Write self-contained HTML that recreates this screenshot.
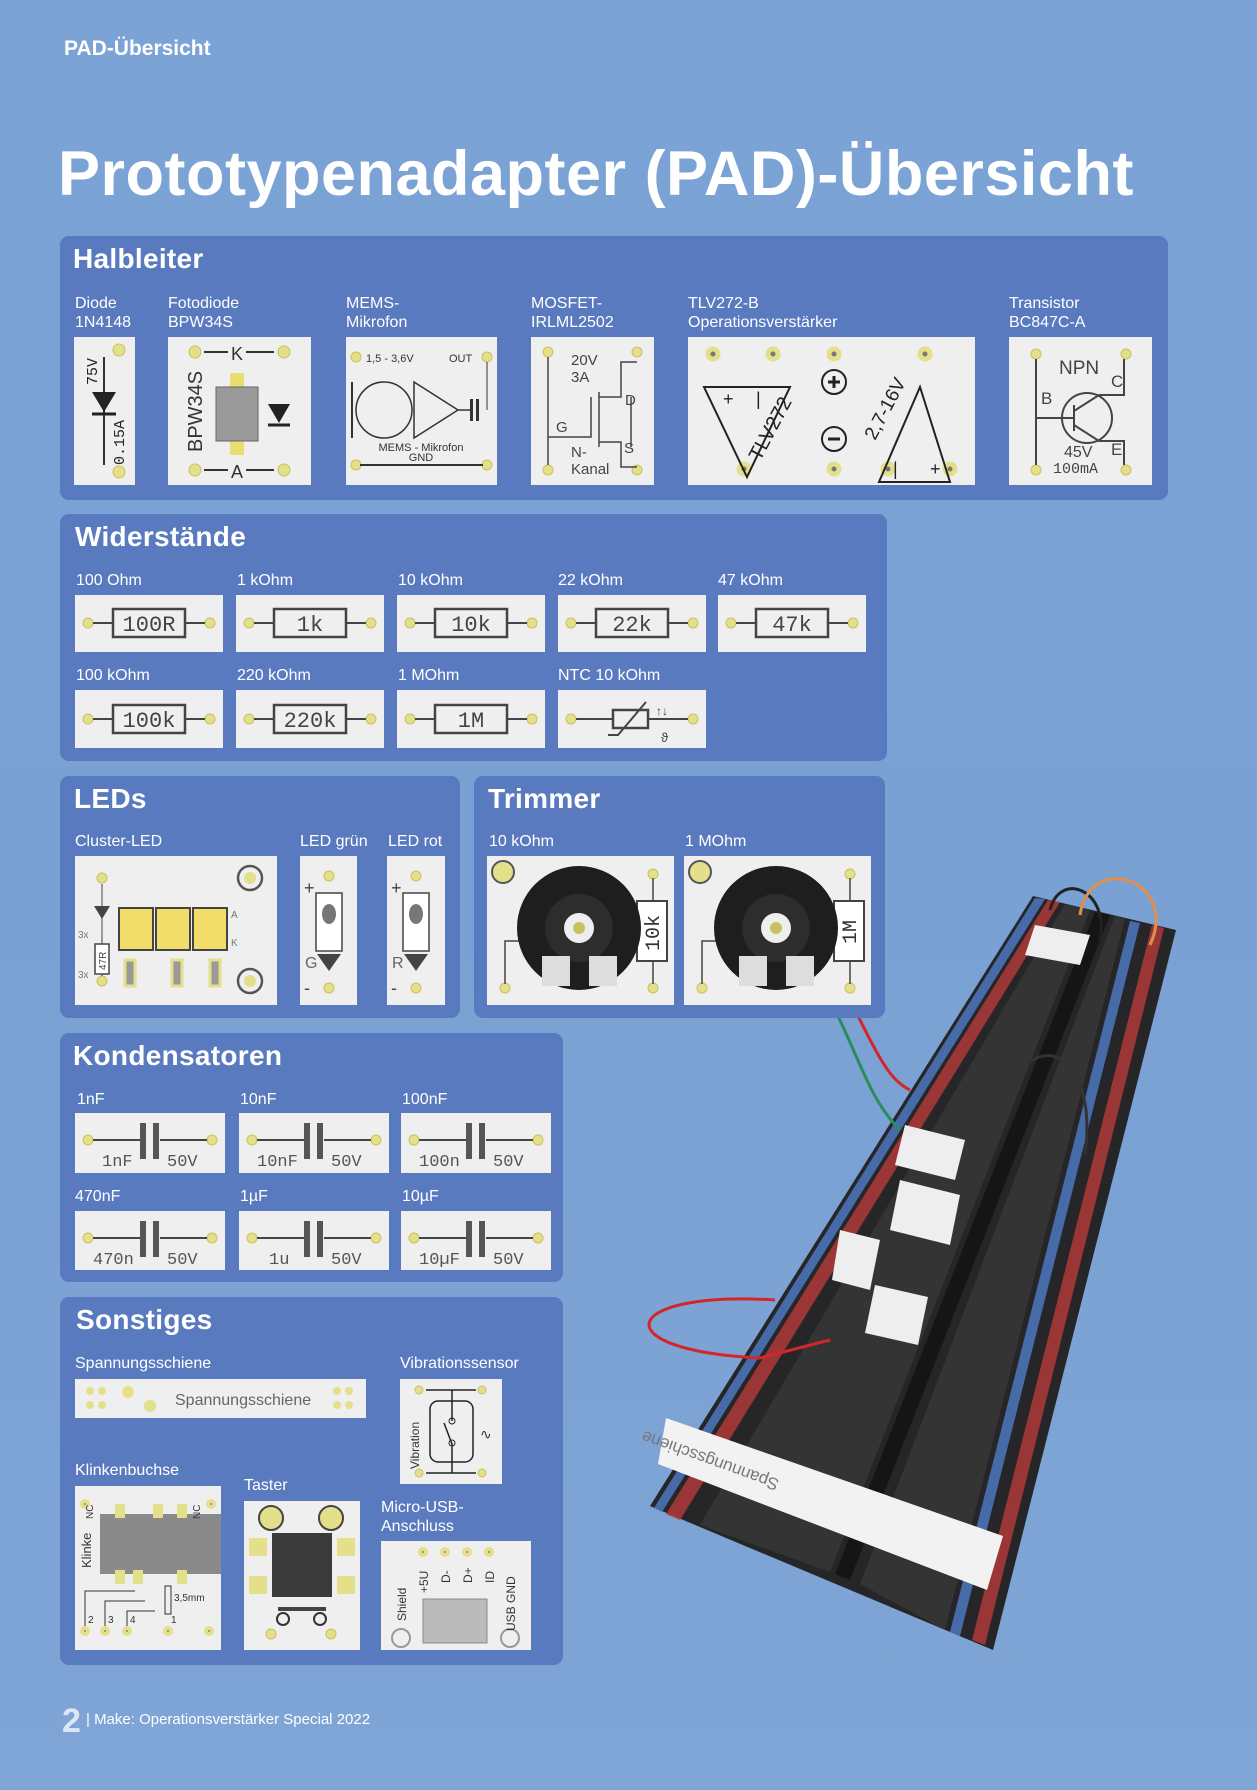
<!DOCTYPE html>
<html><head><meta charset="utf-8"><style>
*{margin:0;padding:0;box-sizing:border-box}
body{width:1257px;height:1790px;overflow:hidden;position:relative;font-family:"Liberation Sans",sans-serif;background:linear-gradient(180deg,#7ba3d6 0%,#7aa1d3 50%,#7ea5d5 100%)}
.a{position:absolute}
.box{position:absolute;background:#5a7abf;border-radius:9px}
.h{position:absolute;color:#fff;font-weight:bold;font-size:28px;letter-spacing:.3px}
.l{position:absolute;color:#fff;font-size:16px;line-height:19px;white-space:nowrap}
.c{position:absolute;background:#efefef}
svg{position:absolute;left:0;top:0}
.m{font-family:"Liberation Mono",monospace}
</style></head><body>
<div class="a" style="left:64px;top:37px;color:#fff;font-weight:bold;font-size:21px">PAD-Übersicht</div>
<div class="a" style="left:58px;top:138px;color:#fff;font-weight:bold;font-size:63px;letter-spacing:.5px;white-space:nowrap">Prototypenadapter (PAD)-Übersicht</div>

<!-- breadboard photo -->
<svg width="1257" height="1790" style="position:absolute;left:0;top:0">
<polygon points="1033,896 1176,930 993,1650 650,1506" fill="#262628"/>
<polygon points="1048,900 1060,902 680,1520 666,1514" fill="#b03a3a" opacity=".85"/>
<polygon points="1035,898 1045,899 662,1512 654,1508" fill="#4d78c0" opacity=".85"/>
<polygon points="1152,925 1164,928 985,1645 972,1640" fill="#b03a3a" opacity=".85"/>
<polygon points="1130,921 1140,923 960,1636 950,1632" fill="#4d78c0" opacity=".85"/>
<polygon points="1095,912 1110,915 850,1580 835,1574" fill="#151515"/>
<g fill="#3a3a3a" opacity=".7"><polygon points="1065,904 1090,910 830,1572 700,1525"/><polygon points="1115,916 1125,919 945,1630 860,1584"/></g>
<polygon points="666,1418 1003,1536 987,1590 658,1464" fill="#f2f2f2"/>
<text x="780" y="1480" transform="rotate(200 780 1480)" font-size="17" fill="#777">Spannungsschiene</text>
<polygon points="1035,925 1090,935 1080,965 1025,955" fill="#eee"/>
<polygon points="905,1125 965,1140 955,1180 895,1165" fill="#eee"/>
<polygon points="900,1180 960,1195 950,1245 890,1230" fill="#eee"/>
<polygon points="840,1230 880,1240 870,1290 832,1280" fill="#eee"/>
<polygon points="875,1285 928,1297 918,1345 865,1333" fill="#eee"/>
<path d="M775,1300 C620,1290 600,1350 760,1358 L830,1340" stroke="#d2262b" stroke-width="3" fill="none"/>
<path d="M835,1010 C860,1060 870,1100 900,1130" stroke="#2b8d5a" stroke-width="3" fill="none"/>
<path d="M855,1010 C880,1060 890,1080 910,1090" stroke="#d2262b" stroke-width="3" fill="none"/>
<path d="M1085,1155 C1100,1040 1020,1020 1000,1120" stroke="#333" stroke-width="3" fill="none"/>
<path d="M1100,940 C1110,890 1060,870 1050,910" stroke="#222" stroke-width="3" fill="none"/>
<path d="M1150,945 C1180,880 1090,850 1080,915" stroke="#e0904a" stroke-width="3" fill="none"/>
</svg>

<!-- Halbleiter -->
<div class="box" style="left:60px;top:236px;width:1108px;height:264px"></div>
<div class="h" style="left:73px;top:243px">Halbleiter</div>
<div class="l" style="left:75px;top:294px">Diode<br>1N4148</div>
<div class="l" style="left:168px;top:294px">Fotodiode<br>BPW34S</div>
<div class="l" style="left:346px;top:294px">MEMS-<br>Mikrofon</div>
<div class="l" style="left:531px;top:294px">MOSFET-<br>IRLML2502</div>
<div class="l" style="left:688px;top:294px">TLV272-B<br>Operationsverstärker</div>
<div class="l" style="left:1009px;top:294px">Transistor<br>BC847C-A</div>

<div class="c" style="left:74px;top:337px;width:61px;height:148px"><svg width="61" height="148">
<g fill="#e4df8a" stroke="#c9c160"><circle cx="45" cy="13" r="6"/><circle cx="45" cy="135" r="6"/></g>
<line x1="30" y1="20" x2="30" y2="128" stroke="#333" stroke-width="2"/><polygon points="18,55 42,55 30,75" fill="#222"/><line x1="18" y1="77" x2="42" y2="77" stroke="#222" stroke-width="3"/>
<text x="23" y="48" transform="rotate(-90 23 48)" class="m" font-size="15" fill="#222">75V</text>
<text x="50" y="128" transform="rotate(-90 50 128)" class="m" font-size="15" fill="#222">0.15A</text></svg></div>

<div class="c" style="left:168px;top:337px;width:143px;height:148px"><svg width="143" height="148">
<g fill="#e4df8a" stroke="#c9c160"><circle cx="27" cy="15" r="6"/><circle cx="116" cy="15" r="6"/><circle cx="27" cy="133" r="6"/><circle cx="116" cy="133" r="6"/></g>
<text x="63" y="23" font-size="18" fill="#333">K</text><text x="63" y="141" font-size="18" fill="#333">A</text>
<line x1="36" y1="15" x2="60" y2="15" stroke="#333" stroke-width="2"/><line x1="78" y1="15" x2="106" y2="15" stroke="#333" stroke-width="2"/>
<line x1="36" y1="133" x2="60" y2="133" stroke="#333" stroke-width="2"/><line x1="78" y1="133" x2="106" y2="133" stroke="#333" stroke-width="2"/>
<rect x="62" y="36" width="14" height="18" fill="#e8df70"/><rect x="62" y="100" width="14" height="18" fill="#e8df70"/>
<rect x="48" y="50" width="42" height="54" fill="#9a9a9a" stroke="#666"/>
<polygon points="100,67 122,67 111,86" fill="#222"/><line x1="100" y1="88" x2="122" y2="88" stroke="#222" stroke-width="3"/>
<text x="34" y="115" transform="rotate(-90 34 115)" font-size="20" fill="#333">BPW34S</text></svg></div>

<div class="c" style="left:346px;top:337px;width:151px;height:148px"><svg width="151" height="148">
<g fill="#e4df8a" stroke="#c9c160"><circle cx="10" cy="20" r="5"/><circle cx="141" cy="20" r="5"/><circle cx="10" cy="128" r="5"/><circle cx="141" cy="128" r="5"/></g>
<text x="20" y="25" font-size="11" fill="#333">1,5 - 3,6V</text><text x="103" y="25" font-size="11" fill="#333">OUT</text>
<circle cx="38" cy="73" r="28" fill="none" stroke="#333" stroke-width="1.5"/><line x1="6" y1="45" x2="6" y2="101" stroke="#333" stroke-width="2"/>
<polygon points="68,45 68,101 112,73" fill="none" stroke="#333" stroke-width="1.5"/>
<line x1="112" y1="73" x2="124" y2="73" stroke="#333" stroke-width="1.5"/><rect x="124" y="62" width="3" height="22" fill="#333"/><rect x="130" y="62" width="3" height="22" fill="#333"/>
<line x1="141" y1="25" x2="141" y2="73" stroke="#333"/>
<text x="75" y="114" text-anchor="middle" font-size="11" fill="#333">MEMS - Mikrofon</text><text x="75" y="124" text-anchor="middle" font-size="11" fill="#333">GND</text>
<line x1="14" y1="128" x2="137" y2="128" stroke="#333" stroke-width="2"/></svg></div>

<div class="c" style="left:531px;top:337px;width:123px;height:148px"><svg width="123" height="148">
<g fill="#e4df8a" stroke="#c9c160"><circle cx="17" cy="15" r="5"/><circle cx="106" cy="15" r="5"/><circle cx="17" cy="133" r="5"/><circle cx="106" cy="133" r="5"/></g>
<text x="40" y="28" font-size="15" fill="#444">20V</text><text x="40" y="45" font-size="15" fill="#444">3A</text>
<text x="94" y="68" font-size="15" fill="#444">D</text><text x="93" y="116" font-size="15" fill="#444">S</text><text x="25" y="95" font-size="15" fill="#444">G</text>
<text x="40" y="120" font-size="15" fill="#444">N-</text><text x="40" y="137" font-size="15" fill="#444">Kanal</text>
<g stroke="#444" stroke-width="1.5" fill="none"><path d="M17,20 V128"/><path d="M17,100 H60 V60"/><path d="M68,55 V110"/><path d="M68,60 H90 V25 H106"/><path d="M68,105 H90 V130 H106"/><path d="M100,60 V110"/></g></svg></div>

<div class="c" style="left:688px;top:337px;width:287px;height:148px"><svg width="287" height="148">
<g fill="#777" stroke="#e4df8a" stroke-width="5"><circle cx="25" cy="17" r="5"/><circle cx="85" cy="17" r="5"/><circle cx="146" cy="17" r="5"/><circle cx="237" cy="17" r="5"/><circle cx="56" cy="132" r="5"/><circle cx="146" cy="132" r="5"/><circle cx="200" cy="132" r="5"/><circle cx="262" cy="132" r="5"/></g>
<g fill="none" stroke="#222" stroke-width="2"><polygon points="16,50 102,50 59,140"/><polygon points="191,145 262,145 232,50"/><circle cx="146" cy="45" r="12"/><circle cx="146" cy="102" r="12"/></g>
<path d="M140,45 H152 M146,39 V51 M140,102 H152" stroke="#222" stroke-width="3"/>
<text x="35" y="68" font-size="18" fill="#222">+</text><text x="68" y="68" font-size="18" fill="#222">|</text>
<text x="205" y="138" font-size="18" fill="#222">|</text><text x="242" y="138" font-size="18" fill="#222">+</text>
<text x="72" y="125" transform="rotate(-62 72 125)" font-size="20" fill="#222">TLV272</text>
<text x="187" y="104" transform="rotate(-62 187 104)" font-size="19" fill="#222">2,7-16V</text></svg></div>

<div class="c" style="left:1009px;top:337px;width:143px;height:148px"><svg width="143" height="148">
<g fill="#e4df8a" stroke="#c9c160"><circle cx="27" cy="17" r="5"/><circle cx="117" cy="17" r="5"/><circle cx="27" cy="133" r="5"/><circle cx="117" cy="133" r="5"/></g>
<text x="50" y="37" font-size="19" fill="#444">NPN</text><text x="102" y="50" font-size="17" fill="#444">C</text><text x="32" y="67" font-size="17" fill="#444">B</text><text x="102" y="118" font-size="17" fill="#444">E</text>
<text x="55" y="120" font-size="16" fill="#444">45V</text><text x="44" y="136" class="m" font-size="15" fill="#444">100mA</text>
<g stroke="#444" stroke-width="2" fill="none"><circle cx="78" cy="81" r="25"/><path d="M27,22 V128 M27,81 H65 M65,68 V94 M65,74 L90,58 H115 V22 M65,88 L90,104 H115 V128"/></g></svg></div>

<!-- Widerstände -->
<div class="box" style="left:60px;top:514px;width:827px;height:247px"></div>
<div class="h" style="left:75px;top:521px">Widerstände</div>
<div class="l" style="left:76px;top:571px">100 Ohm</div><div class="l" style="left:237px;top:571px">1 kOhm</div><div class="l" style="left:398px;top:571px">10 kOhm</div><div class="l" style="left:558px;top:571px">22 kOhm</div><div class="l" style="left:718px;top:571px">47 kOhm</div>
<div class="l" style="left:76px;top:666px">100 kOhm</div><div class="l" style="left:237px;top:666px">220 kOhm</div><div class="l" style="left:398px;top:666px">1 MOhm</div><div class="l" style="left:558px;top:666px">NTC 10 kOhm</div>

<div class="c" style="left:75px;top:595px;width:148px;height:57px"><svg width="148" height="57"><g fill="#e4df8a" stroke="#c9c160"><circle cx="13" cy="28" r="5"/><circle cx="135" cy="28" r="5"/></g><path d="M18,28 H38 M110,28 H130" stroke="#444" stroke-width="2"/><rect x="38" y="14" width="72" height="28" fill="none" stroke="#444" stroke-width="2.5"/><text x="74" y="36" text-anchor="middle" class="m" font-size="22" fill="#444">100R</text></svg></div>
<div class="c" style="left:236px;top:595px;width:148px;height:57px"><svg width="148" height="57"><g fill="#e4df8a" stroke="#c9c160"><circle cx="13" cy="28" r="5"/><circle cx="135" cy="28" r="5"/></g><path d="M18,28 H38 M110,28 H130" stroke="#444" stroke-width="2"/><rect x="38" y="14" width="72" height="28" fill="none" stroke="#444" stroke-width="2.5"/><text x="74" y="36" text-anchor="middle" class="m" font-size="22" fill="#444">1k</text></svg></div>
<div class="c" style="left:397px;top:595px;width:148px;height:57px"><svg width="148" height="57"><g fill="#e4df8a" stroke="#c9c160"><circle cx="13" cy="28" r="5"/><circle cx="135" cy="28" r="5"/></g><path d="M18,28 H38 M110,28 H130" stroke="#444" stroke-width="2"/><rect x="38" y="14" width="72" height="28" fill="none" stroke="#444" stroke-width="2.5"/><text x="74" y="36" text-anchor="middle" class="m" font-size="22" fill="#444">10k</text></svg></div>
<div class="c" style="left:558px;top:595px;width:148px;height:57px"><svg width="148" height="57"><g fill="#e4df8a" stroke="#c9c160"><circle cx="13" cy="28" r="5"/><circle cx="135" cy="28" r="5"/></g><path d="M18,28 H38 M110,28 H130" stroke="#444" stroke-width="2"/><rect x="38" y="14" width="72" height="28" fill="none" stroke="#444" stroke-width="2.5"/><text x="74" y="36" text-anchor="middle" class="m" font-size="22" fill="#444">22k</text></svg></div>
<div class="c" style="left:718px;top:595px;width:148px;height:57px"><svg width="148" height="57"><g fill="#e4df8a" stroke="#c9c160"><circle cx="13" cy="28" r="5"/><circle cx="135" cy="28" r="5"/></g><path d="M18,28 H38 M110,28 H130" stroke="#444" stroke-width="2"/><rect x="38" y="14" width="72" height="28" fill="none" stroke="#444" stroke-width="2.5"/><text x="74" y="36" text-anchor="middle" class="m" font-size="22" fill="#444">47k</text></svg></div>
<div class="c" style="left:75px;top:690px;width:148px;height:58px"><svg width="148" height="58"><g fill="#e4df8a" stroke="#c9c160"><circle cx="13" cy="29" r="5"/><circle cx="135" cy="29" r="5"/></g><path d="M18,29 H38 M110,29 H130" stroke="#444" stroke-width="2"/><rect x="38" y="15" width="72" height="28" fill="none" stroke="#444" stroke-width="2.5"/><text x="74" y="37" text-anchor="middle" class="m" font-size="22" fill="#444">100k</text></svg></div>
<div class="c" style="left:236px;top:690px;width:148px;height:58px"><svg width="148" height="58"><g fill="#e4df8a" stroke="#c9c160"><circle cx="13" cy="29" r="5"/><circle cx="135" cy="29" r="5"/></g><path d="M18,29 H38 M110,29 H130" stroke="#444" stroke-width="2"/><rect x="38" y="15" width="72" height="28" fill="none" stroke="#444" stroke-width="2.5"/><text x="74" y="37" text-anchor="middle" class="m" font-size="22" fill="#444">220k</text></svg></div>
<div class="c" style="left:397px;top:690px;width:148px;height:58px"><svg width="148" height="58"><g fill="#e4df8a" stroke="#c9c160"><circle cx="13" cy="29" r="5"/><circle cx="135" cy="29" r="5"/></g><path d="M18,29 H38 M110,29 H130" stroke="#444" stroke-width="2"/><rect x="38" y="15" width="72" height="28" fill="none" stroke="#444" stroke-width="2.5"/><text x="74" y="37" text-anchor="middle" class="m" font-size="22" fill="#444">1M</text></svg></div>
<div class="c" style="left:558px;top:690px;width:148px;height:58px"><svg width="148" height="58"><g fill="#e4df8a" stroke="#c9c160"><circle cx="13" cy="29" r="5"/><circle cx="135" cy="29" r="5"/></g><path d="M18,29 H55 M90,29 H130" stroke="#444" stroke-width="2"/><rect x="55" y="20" width="35" height="18" fill="none" stroke="#444" stroke-width="2.5"/><path d="M50,45 H60 L88,12" stroke="#444" stroke-width="2" fill="none"/><text x="98" y="25" font-size="12" fill="#444">↑↓</text><text x="103" y="52" font-size="13" fill="#444">ϑ</text></svg></div>

<!-- LEDs -->
<div class="box" style="left:60px;top:776px;width:400px;height:242px"></div>
<div class="h" style="left:74px;top:783px">LEDs</div>
<div class="l" style="left:75px;top:832px">Cluster-LED</div><div class="l" style="left:300px;top:832px">LED grün</div><div class="l" style="left:388px;top:832px">LED rot</div>
<div class="c" style="left:75px;top:856px;width:202px;height:149px"><svg width="202" height="149">
<g fill="#e4df8a" stroke="#c9c160"><circle cx="27" cy="22" r="5"/><circle cx="27" cy="125" r="5"/></g>
<g fill="none" stroke="#555" stroke-width="2.5"><circle cx="175" cy="22" r="12"/><circle cx="175" cy="125" r="12"/></g><g fill="#e4df8a"><circle cx="175" cy="22" r="6"/><circle cx="175" cy="125" r="6"/></g>
<rect x="44" y="52" width="34" height="42" fill="#f3dd6a" stroke="#444" stroke-width="2"/><rect x="81" y="52" width="34" height="42" fill="#f3dd6a" stroke="#444" stroke-width="2"/><rect x="118" y="52" width="34" height="42" fill="#f3dd6a" stroke="#444" stroke-width="2"/>
<g fill="#999" stroke="#e4df8a" stroke-width="3"><rect x="50" y="104" width="10" height="26"/><rect x="97" y="104" width="10" height="26"/><rect x="135" y="104" width="10" height="26"/></g>
<line x1="27" y1="28" x2="27" y2="120" stroke="#444"/><polygon points="19,50 35,50 27,63" fill="#444"/><rect x="20" y="88" width="14" height="30" fill="#fff" stroke="#444" stroke-width="1.5"/>
<text x="31" y="114" transform="rotate(-90 31 114)" font-size="10" fill="#444">47R</text><text x="3" y="82" font-size="10" fill="#777">3x</text><text x="3" y="122" font-size="10" fill="#777">3x</text>
<text x="156" y="62" font-size="10" fill="#777">A</text><text x="156" y="90" font-size="10" fill="#777">K</text></svg></div>
<div class="c" style="left:300px;top:856px;width:57px;height:149px"><svg width="57" height="149"><g fill="#e4df8a" stroke="#c9c160"><circle cx="29" cy="20" r="5"/><circle cx="29" cy="132" r="5"/></g><rect x="16" y="37" width="26" height="58" fill="#fff" stroke="#444" stroke-width="1.5"/><ellipse cx="29" cy="58" rx="7" ry="10" fill="#777"/><polygon points="17,98 41,98 29,115" fill="#444"/><text x="4" y="38" font-size="18" fill="#444">+</text><text x="5" y="112" font-size="16" fill="#666">G</text><text x="4" y="138" font-size="18" fill="#444">-</text></svg></div>
<div class="c" style="left:387px;top:856px;width:58px;height:149px"><svg width="58" height="149"><g fill="#e4df8a" stroke="#c9c160"><circle cx="29" cy="20" r="5"/><circle cx="29" cy="132" r="5"/></g><rect x="16" y="37" width="26" height="58" fill="#fff" stroke="#444" stroke-width="1.5"/><ellipse cx="29" cy="58" rx="7" ry="10" fill="#777"/><polygon points="17,98 41,98 29,115" fill="#444"/><text x="4" y="38" font-size="18" fill="#444">+</text><text x="5" y="112" font-size="16" fill="#666">R</text><text x="4" y="138" font-size="18" fill="#444">-</text></svg></div>

<!-- Trimmer -->
<div class="box" style="left:474px;top:776px;width:411px;height:242px"></div>
<div class="h" style="left:488px;top:783px">Trimmer</div>
<div class="l" style="left:489px;top:832px">10 kOhm</div><div class="l" style="left:685px;top:832px">1 MOhm</div>
<div class="c" style="left:487px;top:856px;width:187px;height:149px"><svg width="187" height="149">
<circle cx="16" cy="16" r="11" fill="#e4df8a" stroke="#555" stroke-width="2"/><g fill="#e4df8a" stroke="#c9c160"><circle cx="166" cy="18" r="5"/><circle cx="166" cy="132" r="5"/><circle cx="18" cy="132" r="5"/></g>
<rect x="150" y="45" width="30" height="60" fill="#fff" stroke="#444" stroke-width="2"/><text x="172" y="95" transform="rotate(-90 172 95)" class="m" font-size="20" fill="#333">10k</text>
<path d="M166,22 V45 M166,105 V128 M18,128 V85 H32" stroke="#444" stroke-width="1.5" fill="none"/>
<circle cx="92" cy="72" r="62" fill="#1e1e1e"/><circle cx="92" cy="72" r="34" fill="#2d2d2d"/><circle cx="92" cy="72" r="15" fill="#eee"/><circle cx="92" cy="72" r="6" fill="#c9c160"/>
<rect x="55" y="100" width="28" height="30" fill="#ddd"/><rect x="102" y="100" width="28" height="30" fill="#ddd"/></svg></div>
<div class="c" style="left:684px;top:856px;width:187px;height:149px"><svg width="187" height="149">
<circle cx="16" cy="16" r="11" fill="#e4df8a" stroke="#555" stroke-width="2"/><g fill="#e4df8a" stroke="#c9c160"><circle cx="166" cy="18" r="5"/><circle cx="166" cy="132" r="5"/><circle cx="18" cy="132" r="5"/></g>
<rect x="150" y="45" width="30" height="60" fill="#fff" stroke="#444" stroke-width="2"/><text x="172" y="88" transform="rotate(-90 172 88)" class="m" font-size="20" fill="#333">1M</text>
<path d="M166,22 V45 M166,105 V128 M18,128 V85 H32" stroke="#444" stroke-width="1.5" fill="none"/>
<circle cx="92" cy="72" r="62" fill="#1e1e1e"/><circle cx="92" cy="72" r="34" fill="#2d2d2d"/><circle cx="92" cy="72" r="15" fill="#eee"/><circle cx="92" cy="72" r="6" fill="#c9c160"/>
<rect x="55" y="100" width="28" height="30" fill="#ddd"/><rect x="102" y="100" width="28" height="30" fill="#ddd"/></svg></div>

<!-- Kondensatoren -->
<div class="box" style="left:60px;top:1033px;width:503px;height:249px"></div>
<div class="h" style="left:73px;top:1040px">Kondensatoren</div>
<div class="l" style="left:77px;top:1090px">1nF</div><div class="l" style="left:240px;top:1090px">10nF</div><div class="l" style="left:402px;top:1090px">100nF</div>
<div class="l" style="left:75px;top:1187px">470nF</div><div class="l" style="left:240px;top:1187px">1µF</div><div class="l" style="left:402px;top:1187px">10µF</div>
<div class="c" style="left:75px;top:1113px;width:150px;height:60px"><svg width="150" height="60"><g fill="#e4df8a" stroke="#c9c160"><circle cx="13" cy="27" r="5"/><circle cx="137" cy="27" r="5"/></g><path d="M18,27 H65 M85,27 H132" stroke="#444" stroke-width="2"/><rect x="65" y="10" width="6" height="36" fill="#555"/><rect x="78" y="10" width="6" height="36" fill="#555"/><text x="27" y="53" class="m" font-size="17" fill="#555">1nF</text><text x="92" y="53" class="m" font-size="17" fill="#555">50V</text></svg></div>
<div class="c" style="left:239px;top:1113px;width:150px;height:60px"><svg width="150" height="60"><g fill="#e4df8a" stroke="#c9c160"><circle cx="13" cy="27" r="5"/><circle cx="137" cy="27" r="5"/></g><path d="M18,27 H65 M85,27 H132" stroke="#444" stroke-width="2"/><rect x="65" y="10" width="6" height="36" fill="#555"/><rect x="78" y="10" width="6" height="36" fill="#555"/><text x="18" y="53" class="m" font-size="17" fill="#555">10nF</text><text x="92" y="53" class="m" font-size="17" fill="#555">50V</text></svg></div>
<div class="c" style="left:401px;top:1113px;width:150px;height:60px"><svg width="150" height="60"><g fill="#e4df8a" stroke="#c9c160"><circle cx="13" cy="27" r="5"/><circle cx="137" cy="27" r="5"/></g><path d="M18,27 H65 M85,27 H132" stroke="#444" stroke-width="2"/><rect x="65" y="10" width="6" height="36" fill="#555"/><rect x="78" y="10" width="6" height="36" fill="#555"/><text x="18" y="53" class="m" font-size="17" fill="#555">100n</text><text x="92" y="53" class="m" font-size="17" fill="#555">50V</text></svg></div>
<div class="c" style="left:75px;top:1211px;width:150px;height:59px"><svg width="150" height="59"><g fill="#e4df8a" stroke="#c9c160"><circle cx="13" cy="27" r="5"/><circle cx="137" cy="27" r="5"/></g><path d="M18,27 H65 M85,27 H132" stroke="#444" stroke-width="2"/><rect x="65" y="10" width="6" height="36" fill="#555"/><rect x="78" y="10" width="6" height="36" fill="#555"/><text x="18" y="53" class="m" font-size="17" fill="#555">470n</text><text x="92" y="53" class="m" font-size="17" fill="#555">50V</text></svg></div>
<div class="c" style="left:239px;top:1211px;width:150px;height:59px"><svg width="150" height="59"><g fill="#e4df8a" stroke="#c9c160"><circle cx="13" cy="27" r="5"/><circle cx="137" cy="27" r="5"/></g><path d="M18,27 H65 M85,27 H132" stroke="#444" stroke-width="2"/><rect x="65" y="10" width="6" height="36" fill="#555"/><rect x="78" y="10" width="6" height="36" fill="#555"/><text x="30" y="53" class="m" font-size="17" fill="#555">1u</text><text x="92" y="53" class="m" font-size="17" fill="#555">50V</text></svg></div>
<div class="c" style="left:401px;top:1211px;width:150px;height:59px"><svg width="150" height="59"><g fill="#e4df8a" stroke="#c9c160"><circle cx="13" cy="27" r="5"/><circle cx="137" cy="27" r="5"/></g><path d="M18,27 H65 M85,27 H132" stroke="#444" stroke-width="2"/><rect x="65" y="10" width="6" height="36" fill="#555"/><rect x="78" y="10" width="6" height="36" fill="#555"/><text x="18" y="53" class="m" font-size="17" fill="#555">10µF</text><text x="92" y="53" class="m" font-size="17" fill="#555">50V</text></svg></div>

<!-- Sonstiges -->
<div class="box" style="left:60px;top:1297px;width:503px;height:368px"></div>
<div class="h" style="left:76px;top:1304px">Sonstiges</div>
<div class="l" style="left:75px;top:1354px">Spannungsschiene</div><div class="l" style="left:400px;top:1354px">Vibrationssensor</div>
<div class="l" style="left:75px;top:1461px">Klinkenbuchse</div><div class="l" style="left:244px;top:1476px">Taster</div>
<div class="l" style="left:381px;top:1498px">Micro-USB-<br>Anschluss</div>
<div class="c" style="left:75px;top:1379px;width:291px;height:39px"><svg width="291" height="39"><g fill="#e4df8a"><circle cx="15" cy="12" r="4"/><circle cx="27" cy="12" r="4"/><circle cx="15" cy="26" r="4"/><circle cx="27" cy="26" r="4"/><circle cx="53" cy="13" r="6"/><circle cx="75" cy="27" r="6"/><circle cx="262" cy="12" r="4"/><circle cx="274" cy="12" r="4"/><circle cx="262" cy="26" r="4"/><circle cx="274" cy="26" r="4"/></g><text x="100" y="26" font-size="16" fill="#666">Spannungsschiene</text></svg></div>
<div class="c" style="left:400px;top:1379px;width:102px;height:105px"><svg width="102" height="105"><g fill="#e4df8a" stroke="#c9c160"><circle cx="19" cy="11" r="4"/><circle cx="82" cy="11" r="4"/><circle cx="19" cy="94" r="4"/><circle cx="82" cy="94" r="4"/></g><path d="M26,11 H76 M26,94 H76 M52,11 V42 M52,64 V94 M44,44 L52,65" stroke="#222" stroke-width="1.5" fill="none"/><rect x="30" y="22" width="43" height="61" rx="8" fill="none" stroke="#222" stroke-width="1.5"/><circle cx="52" cy="42" r="3" fill="none" stroke="#222"/><circle cx="52" cy="64" r="3" fill="none" stroke="#222"/><text x="19" y="90" transform="rotate(-90 19 90)" font-size="12" fill="#333">Vibration</text><text x="80" y="60" font-size="14" fill="#333">∿</text></svg></div>
<div class="c" style="left:75px;top:1486px;width:146px;height:164px"><svg width="146" height="164"><g fill="#888" stroke="#e4df8a" stroke-width="4"><circle cx="10" cy="18" r="3"/><circle cx="136" cy="18" r="3"/><circle cx="10" cy="145" r="3"/><circle cx="30" cy="145" r="3"/><circle cx="52" cy="145" r="3"/><circle cx="93" cy="145" r="3"/><circle cx="134" cy="145" r="3"/></g><rect x="25" y="28" width="121" height="60" fill="#8a8a8a"/><g fill="#e4df8a"><rect x="40" y="18" width="10" height="14"/><rect x="78" y="18" width="10" height="14"/><rect x="102" y="18" width="10" height="14"/><rect x="40" y="84" width="10" height="14"/><rect x="58" y="84" width="10" height="14"/><rect x="102" y="84" width="10" height="14"/></g><text x="16" y="82" transform="rotate(-90 16 82)" font-size="13" fill="#333">Klinke</text><text x="18" y="33" transform="rotate(-90 18 33)" font-size="10" fill="#333">NC</text><text x="125" y="33" transform="rotate(-90 125 33)" font-size="10" fill="#333">NC</text><path d="M10,140 V105 H60 M30,140 V115 H70 M52,140 V125 H80" stroke="#333" fill="none"/><rect x="90" y="100" width="6" height="28" fill="none" stroke="#333"/><text x="99" y="115" font-size="10" fill="#333">3,5mm</text><text x="13" y="137" font-size="10" fill="#333">2</text><text x="33" y="137" font-size="10" fill="#333">3</text><text x="55" y="137" font-size="10" fill="#333">4</text><text x="96" y="137" font-size="10" fill="#333">1</text></svg></div>
<div class="c" style="left:244px;top:1501px;width:116px;height:149px"><svg width="116" height="149"><g fill="#e4df8a" stroke="#444" stroke-width="2"><circle cx="27" cy="17" r="12"/><circle cx="87" cy="17" r="12"/></g><g fill="#e4df8a" stroke="#c9c160"><circle cx="27" cy="133" r="5"/><circle cx="87" cy="133" r="5"/></g><g fill="#e4df8a"><rect x="5" y="37" width="18" height="18"/><rect x="93" y="37" width="18" height="18"/><rect x="5" y="75" width="18" height="18"/><rect x="93" y="75" width="18" height="18"/></g><rect x="28" y="32" width="60" height="64" fill="#3a3a3a"/><rect x="34" y="106" width="48" height="4" fill="#444"/><g fill="none" stroke="#333" stroke-width="2"><circle cx="39" cy="118" r="6"/><circle cx="76" cy="118" r="6"/></g></svg></div>
<div class="c" style="left:381px;top:1541px;width:150px;height:109px"><svg width="150" height="109"><g fill="#888" stroke="#e4df8a" stroke-width="4"><circle cx="42" cy="11" r="3"/><circle cx="64" cy="11" r="3"/><circle cx="86" cy="11" r="3"/><circle cx="108" cy="11" r="3"/></g><g fill="none" stroke="#999" stroke-width="2"><circle cx="20" cy="97" r="9"/><circle cx="129" cy="97" r="9"/></g><rect x="42" y="58" width="64" height="44" fill="#bbb" stroke="#888"/><g font-size="12" fill="#333"><text x="25" y="80" transform="rotate(-90 25 80)">Shield</text><text x="47" y="52" transform="rotate(-90 47 52)">+5U</text><text x="69" y="42" transform="rotate(-90 69 42)">D-</text><text x="91" y="42" transform="rotate(-90 91 42)">D+</text><text x="113" y="42" transform="rotate(-90 113 42)">ID</text><text x="134" y="90" transform="rotate(-90 134 90)">USB GND</text></g></svg></div>

<div class="a" style="left:62px;top:1702px;color:#dde6f3;font-size:34px;font-weight:bold">2</div>
<div class="a" style="left:86px;top:1711px;color:#fff;font-size:15px">| Make: Operationsverstärker Special 2022</div>
</body></html>
